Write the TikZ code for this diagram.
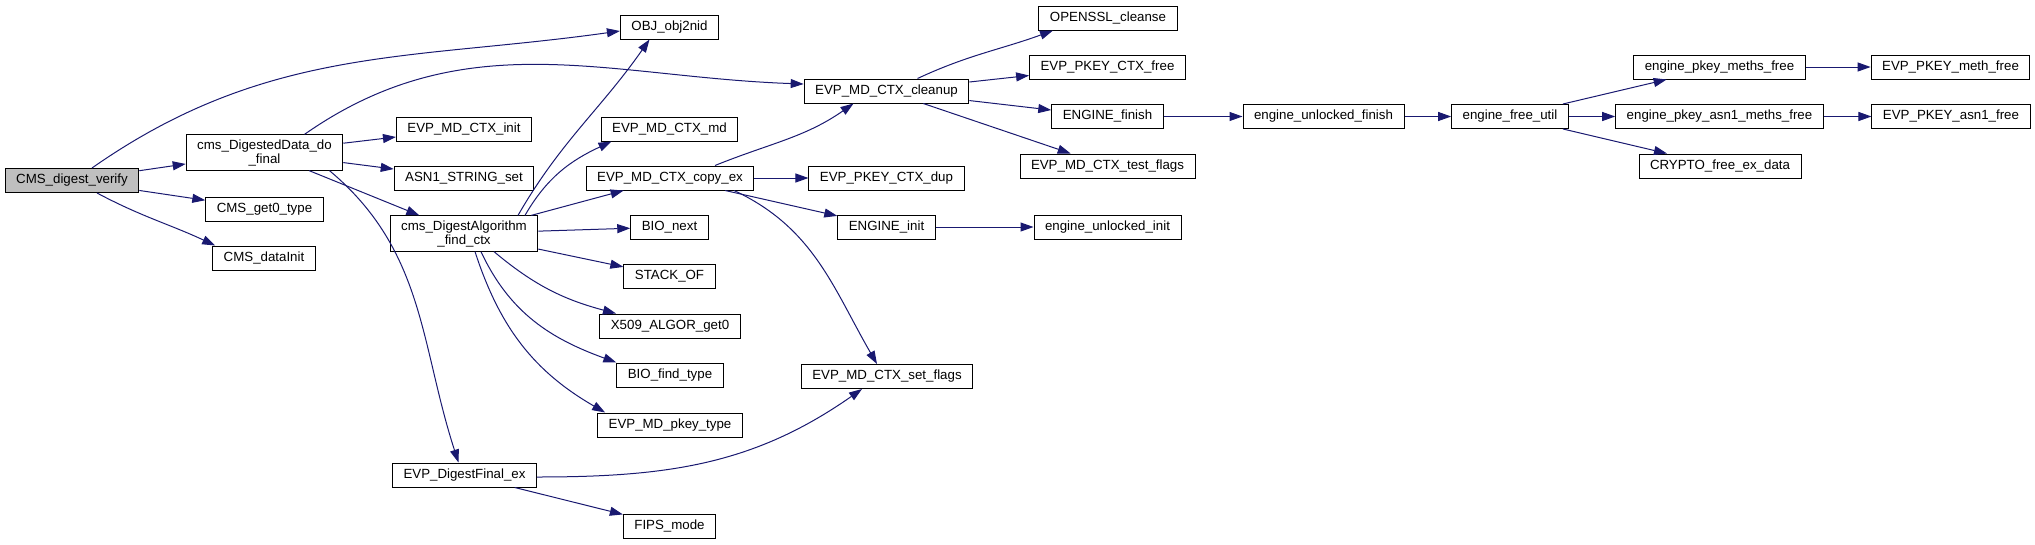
\documentclass[tikz,border=0pt]{standalone}
\usepackage{fontspec}
\setmainfont{Liberation Sans}
\usetikzlibrary{arrows.meta}
\definecolor{edgeblue}{RGB}{25,25,112}
\tikzset{
  fnbox/.style={draw, line width=1pt, inner xsep=11pt, inner ysep=0pt, minimum height=24pt,
    font=\fontsize{13.3}{14}\selectfont, text height=9.6pt, text depth=2.8pt},
  fnboxtwo/.style={draw, line width=1pt, inner xsep=11pt, inner ysep=4.5pt, align=center,
    font=\fontsize{13.3}{14}\selectfont},
  rootbox/.style={fnbox, fill=gray!50},
  call/.style={draw=edgeblue, line width=1pt, -{Triangle[length=13pt,width=9pt]}}
}
\begin{document}
\begin{tikzpicture}[x=1pt, y=1pt]
    \useasboundingbox (0,0) rectangle (2035,-544);

    \node[rootbox] (verify) at (72,-180.5) {CMS\_digest\_verify};
    \node[fnboxtwo] (dodf) at (264.5,-152.5) {cms\_DigestedData\_do\\\_final};
    \node[fnbox] (gettype) at (264.5,-209) {CMS\_get0\_type};
    \node[fnbox] (datainit) at (264,-258) {CMS\_dataInit};
    \node[fnbox] (init) at (464,-129) {EVP\_MD\_CTX\_init};
    \node[fnbox] (asnset) at (464,-178) {ASN1\_STRING\_set};
    \node[fnboxtwo] (findctx) at (464,-233.5) {cms\_DigestAlgorithm\\\_find\_ctx};
    \node[fnbox] (final) at (464.5,-475) {EVP\_DigestFinal\_ex};

    \node[fnbox] (objnid) at (669.5,-27) {OBJ\_obj2nid};
    \node[fnbox] (ctxmd) at (669.5,-129) {EVP\_MD\_CTX\_md};
    \node[fnbox] (copyex) at (670,-178) {EVP\_MD\_CTX\_copy\_ex};
    \node[fnbox] (bionext) at (669.5,-227) {BIO\_next};
    \node[fnbox] (stackof) at (669.5,-276.5) {STACK\_OF};
    \node[fnbox] (algor) at (670,-326) {X509\_ALGOR\_get0};
    \node[fnbox] (biofind) at (670,-375) {BIO\_find\_type};
    \node[fnbox] (pkeytype) at (670,-425) {EVP\_MD\_pkey\_type};
    \node[fnbox] (fips) at (669.5,-526) {FIPS\_mode};

    \node[fnbox] (cleanup) at (886.5,-91) {EVP\_MD\_CTX\_cleanup};
    \node[fnbox] (ctxdup) at (886.5,-178) {EVP\_PKEY\_CTX\_dup};
    \node[fnbox] (enginit) at (886.5,-227) {ENGINE\_init};
    \node[fnbox] (setflags) at (887,-376.5) {EVP\_MD\_CTX\_set\_flags};

    \node[fnbox] (cleanse) at (1108,-18) {OPENSSL\_cleanse};
    \node[fnbox] (ctxfree) at (1107.5,-67) {EVP\_PKEY\_CTX\_free};
    \node[fnbox] (engfinish) at (1107.5,-116.5) {ENGINE\_finish};
    \node[fnbox] (testflags) at (1107.5,-166) {EVP\_MD\_CTX\_test\_flags};
    \node[fnbox] (unlinit) at (1107.5,-227) {engine\_unlocked\_init};
    \node[fnbox] (unlfinish) at (1323.5,-116.5) {engine\_unlocked\_finish};
    \node[fnbox] (freeutil) at (1510,-116.5) {engine\_free\_util};
    \node[fnbox] (methsfree) at (1719.5,-67) {engine\_pkey\_meths\_free};
    \node[fnbox] (asnmethsfree) at (1719.5,-116.5) {engine\_pkey\_asn1\_meths\_free};
    \node[fnbox] (cryptofree) at (1720,-166) {CRYPTO\_free\_ex\_data};
    \node[fnbox] (methfree) at (1950.5,-67) {EVP\_PKEY\_meth\_free};
    \node[fnbox] (asnfree) at (1951,-116.5) {EVP\_PKEY\_asn1\_free};

    % calls out of the root
    \draw[call] ([xshift=20pt]verify.north) to[out=35,in=188] ([yshift=-4pt]objnid.west);
    \draw[call] (verify) -- (dodf);
    \draw[call] (verify) -- (gettype);
    \draw[call] ([xshift=25pt]verify.south) to[out=-28,in=155] ([xshift=3pt]datainit.north west);

    \draw[call] ([xshift=40pt]dodf.north) to[out=35,in=178] ([yshift=7pt]cleanup.west);
    \draw[call] (dodf) -- (init);
    \draw[call] (dodf) -- (asnset);
    \draw[call] (dodf) -- (findctx);
    \draw[call] ([xshift=65pt]dodf.south) to[out=-40,in=108] ([xshift=-6pt]final.north);

    \draw[call] ([xshift=54pt]findctx.north) to[out=60,in=235] ([xshift=-20pt]objnid.south);
    \draw[call] ([xshift=61pt]findctx.north) to[out=60,in=205] ([xshift=-58pt]ctxmd.south);
    \draw[call] (findctx) -- (copyex);
    \draw[call] (findctx) -- (bionext);
    \draw[call] (findctx) -- (stackof);
    \draw[call] ([xshift=30pt]findctx.south) to[out=-40,in=165] ([xshift=-54pt]algor.north);
    \draw[call] ([xshift=17pt]findctx.south) to[out=-65,in=160] (biofind.north west);
    \draw[call] ([xshift=11pt]findctx.south) to[out=-72,in=150] ([xshift=8pt]pkeytype.north west);

    \draw[call] ([yshift=-2pt]final.east) to[out=0,in=215] ([xshift=-25pt]setflags.south);
    \draw[call] (final) -- (fips);

    \draw[call] ([xshift=45pt]copyex.north) to[out=22,in=215] ([xshift=-33pt]cleanup.south);
    \draw[call] (copyex) -- (ctxdup);
    \draw[call] (copyex) -- (enginit);
    \draw[call] ([xshift=64pt]copyex.south) to[out=-25,in=120] ([xshift=-10pt]setflags.north);

    \draw[call] ([xshift=31pt]cleanup.north) to[out=25,in=200] ([xshift=-55pt]cleanse.south);
    \draw[call] (cleanup) -- (ctxfree);
    \draw[call] (cleanup) -- (engfinish);
    \draw[call] (cleanup) -- (testflags);

    \draw[call] (engfinish) -- (unlfinish);
    \draw[call] (enginit) -- (unlinit);
    \draw[call] (unlfinish) -- (freeutil);
    \draw[call] (freeutil) -- (methsfree);
    \draw[call] (freeutil) -- (asnmethsfree);
    \draw[call] (freeutil) -- (cryptofree);
    \draw[call] (methsfree) -- (methfree);
    \draw[call] (asnmethsfree) -- (asnfree);
\end{tikzpicture}
\end{document}
